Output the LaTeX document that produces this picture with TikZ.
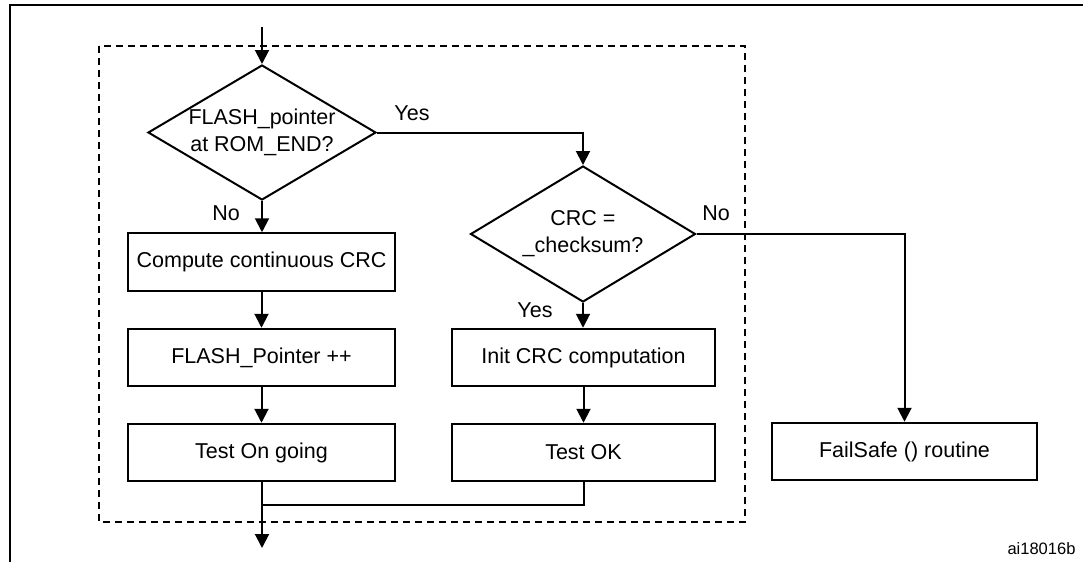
\documentclass[tikz,border=0pt]{standalone}
\usepackage{fontspec}
\setmainfont{Liberation Sans}
\usetikzlibrary{arrows.meta,shapes.geometric}
\begin{document}
\begin{tikzpicture}[x=1pt,y=-1pt,
  line width=2pt,
  every node/.style={font=\fontsize{21.5}{27}\selectfont},
  procbox/.style={draw, rectangle, minimum height=57.5pt, inner sep=0pt, align=center},
  decision/.style={draw, diamond, aspect=1.69, inner sep=0pt, align=center},
  arr/.style={-{Triangle[width=14pt,length=14pt]}},
  lbl/.style={inner sep=0pt}
]
\useasboundingbox (0,0) rectangle (1084,562);
% outer frame
\draw[line width=2.2pt] (9,5) -- (1083,5);
\draw[line width=2.2pt] (10,5) -- (10,562);
% dashed region
\draw[dash pattern=on 7pt off 5pt] (99,46) rectangle (745,522);

% nodes
\node[decision, minimum width=228pt, minimum height=135pt] (d1) at (262,132.5) {FLASH\_pointer\\at ROM\_END?};
\node[procbox, minimum width=267pt] (b1) at (261.5,262) {Compute continuous CRC};
\node[procbox, minimum width=267pt] (b2) at (261.5,357.5) {FLASH\_Pointer ++};
\node[procbox, minimum width=267pt] (b3) at (261.5,452.5) {Test On going};
\node[decision, minimum width=225pt, minimum height=136pt] (d2) at (583,234) {CRC =\\\_checksum?};
\node[procbox, minimum width=263pt] (b4) at (583.5,357.5) {Init CRC computation};
\node[procbox, minimum width=263pt] (b5) at (583.5,452.5) {Test OK};
\node[procbox, minimum width=265pt] (b6) at (904.5,451.5) {FailSafe () routine};

\node[lbl] (nol) at (226,213) {No};
\node[lbl] (yesl) at (412,113) {Yes};
\node[lbl] (no2) at (716,213) {No};
\node[lbl] (yes2) at (535,310) {Yes};
\node[lbl, font=\fontsize{16.5}{20}\selectfont] (ref) at (1041.5,549) {ai18016b};

\coordinate (entry) at (262,27);
\coordinate (exit) at (262,548);
\coordinate (merge) at (262,505);

% connectors
\draw[arr] (entry) -- (d1.north);
\draw[arr] (d1.south) -- (b1.north -| d1.south);
\draw[arr] (b1.south) -- (b2.north);
\draw[arr] (b2.south) -- (b3.north);
\draw[arr] (d1.east) -| (d2.north);
\draw[arr] (d2.south) -- (b4.north -| d2.south);
\draw[arr] (b4.south) -- (b5.north);
\draw[arr] (d2.east) -| (b6.north);
\draw[arr] (b3.south -| merge) -- (exit);
\draw (b5.south) |- (merge);
\end{tikzpicture}
\end{document}
